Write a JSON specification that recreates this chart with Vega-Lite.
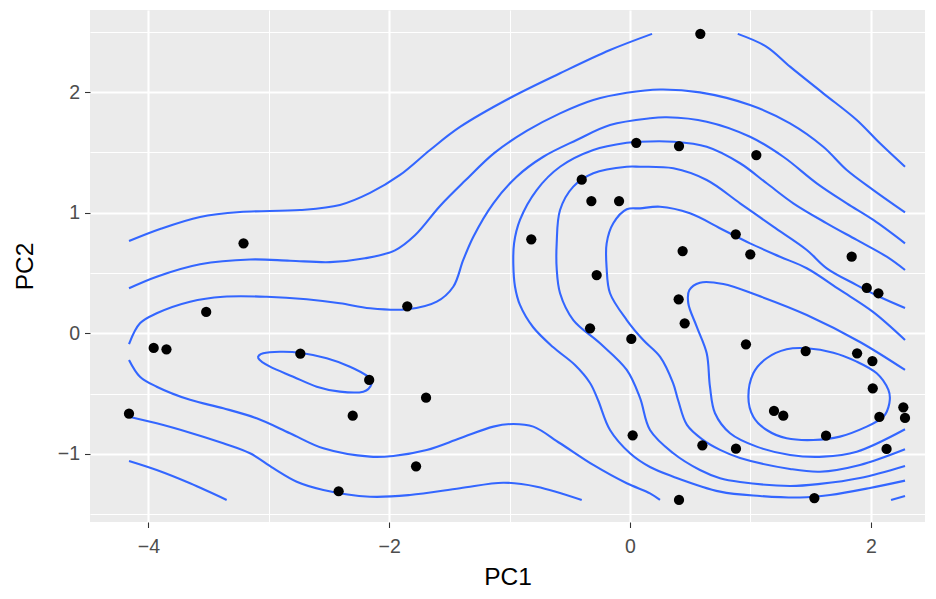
{
  "$schema": "https://vega.github.io/schema/vega-lite/v6.json",
  "width": 835,
  "height": 512,
  "autosize": {"type": "none"},
  "padding": {"left": 90, "top": 10, "right": 11, "bottom": 77},
  "background": "white",
  "config": {
    "view": {"fill": "#EBEBEB", "stroke": null},
    "axis": {"labelFont": "Liberation Sans", "titleFont": "Liberation Sans", "domain": false}
  },
  "datasets": {
    "pts": [
      {"PC1": -3.21, "PC2": 0.746}, {"PC1": -3.52, "PC2": 0.177}, {"PC1": -3.956, "PC2": -0.122}, {"PC1": -3.85, "PC2": -0.133},
      {"PC1": -2.738, "PC2": -0.169}, {"PC1": -2.166, "PC2": -0.387}, {"PC1": -4.161, "PC2": -0.667}, {"PC1": -2.303, "PC2": -0.683},
      {"PC1": -2.42, "PC2": -1.31}, {"PC1": 0.052, "PC2": 1.58}, {"PC1": -0.401, "PC2": 1.274}, {"PC1": -0.321, "PC2": 1.097},
      {"PC1": -0.091, "PC2": 1.097}, {"PC1": -0.82, "PC2": 0.779}, {"PC1": -1.85, "PC2": 0.224}, {"PC1": -0.277, "PC2": 0.483},
      {"PC1": -0.332, "PC2": 0.041}, {"PC1": 0.011, "PC2": -0.047}, {"PC1": -1.694, "PC2": -0.534}, {"PC1": 0.022, "PC2": -0.846},
      {"PC1": -1.777, "PC2": -1.103}, {"PC1": 0.584, "PC2": 2.484}, {"PC1": 0.407, "PC2": 1.553}, {"PC1": 1.049, "PC2": 1.478},
      {"PC1": 0.878, "PC2": 0.821}, {"PC1": 0.437, "PC2": 0.682}, {"PC1": 0.999, "PC2": 0.655}, {"PC1": 1.841, "PC2": 0.635},
      {"PC1": 1.966, "PC2": 0.376}, {"PC1": 2.063, "PC2": 0.332}, {"PC1": 0.404, "PC2": 0.282}, {"PC1": 0.454, "PC2": 0.083},
      {"PC1": 0.963, "PC2": -0.091}, {"PC1": 1.459, "PC2": -0.147}, {"PC1": 1.886, "PC2": -0.166}, {"PC1": 2.013, "PC2": -0.23},
      {"PC1": 2.016, "PC2": -0.456}, {"PC1": 2.27, "PC2": -0.614}, {"PC1": 2.284, "PC2": -0.702}, {"PC1": 2.071, "PC2": -0.694},
      {"PC1": 1.196, "PC2": -0.644}, {"PC1": 1.273, "PC2": -0.683}, {"PC1": 1.628, "PC2": -0.849}, {"PC1": 0.601, "PC2": -0.929},
      {"PC1": 0.88, "PC2": -0.957}, {"PC1": 2.131, "PC2": -0.959}, {"PC1": 0.407, "PC2": -1.382}, {"PC1": 1.531, "PC2": -1.366}
    ],
    "open": [
      {"s": "A1", "i": 0, "x": -4.161, "y": 0.765}, {"s": "A1", "i": 1, "x": -3.903, "y": 0.865}, {"s": "A1", "i": 2, "x": -3.571, "y": 0.965},
      {"s": "A1", "i": 3, "x": -3.239, "y": 1.006}, {"s": "A1", "i": 4, "x": -2.741, "y": 1.022}, {"s": "A1", "i": 5, "x": -2.409, "y": 1.064},
      {"s": "A1", "i": 6, "x": -2.159, "y": 1.164}, {"s": "A1", "i": 7, "x": -1.910, "y": 1.313}, {"s": "A1", "i": 8, "x": -1.661, "y": 1.520},
      {"s": "A1", "i": 9, "x": -1.412, "y": 1.711}, {"s": "A1", "i": 10, "x": -0.997, "y": 1.951}, {"s": "A1", "i": 11, "x": -0.581, "y": 2.156},
      {"s": "A1", "i": 12, "x": -0.166, "y": 2.349}, {"s": "A1", "i": 13, "x": 0.183, "y": 2.483},
      {"s": "A2", "i": 0, "x": 0.895, "y": 2.483}, {"s": "A2", "i": 1, "x": 1.135, "y": 2.376}, {"s": "A2", "i": 2, "x": 1.329, "y": 2.211},
      {"s": "A2", "i": 3, "x": 1.605, "y": 1.99}, {"s": "A2", "i": 4, "x": 1.883, "y": 1.769}, {"s": "A2", "i": 5, "x": 2.076, "y": 1.575},
      {"s": "A2", "i": 6, "x": 2.284, "y": 1.381},
      {"s": "A3", "i": 0, "x": -4.161, "y": -1.059}, {"s": "A3", "i": 1, "x": -3.931, "y": -1.134}, {"s": "A3", "i": 2, "x": -3.654, "y": -1.244},
      {"s": "A3", "i": 3, "x": -3.35, "y": -1.382},
      {"s": "A4", "i": 0, "x": 2.168, "y": -1.382}, {"s": "A4", "i": 1, "x": 2.284, "y": -1.349},
      {"s": "B1", "i": 0, "x": -4.161, "y": 0.373}, {"s": "B1", "i": 1, "x": -3.931, "y": 0.469}, {"s": "B1", "i": 2, "x": -3.571, "y": 0.572},
      {"s": "B1", "i": 3, "x": -3.156, "y": 0.612}, {"s": "B1", "i": 4, "x": -2.824, "y": 0.602}, {"s": "B1", "i": 5, "x": -2.492, "y": 0.590},
      {"s": "B1", "i": 6, "x": -2.201, "y": 0.622}, {"s": "B1", "i": 7, "x": -1.952, "y": 0.688}, {"s": "B1", "i": 8, "x": -1.786, "y": 0.813},
      {"s": "B1", "i": 9, "x": -1.578, "y": 1.056}, {"s": "B1", "i": 10, "x": -1.371, "y": 1.264}, {"s": "B1", "i": 11, "x": -1.126, "y": 1.496},
      {"s": "B1", "i": 12, "x": -0.855, "y": 1.680}, {"s": "B1", "i": 13, "x": -0.581, "y": 1.824},
      {"s": "B1", "i": 14, "x": -0.305, "y": 1.935}, {"s": "B1", "i": 15, "x": -0.027, "y": 1.995}, {"s": "B1", "i": 16, "x": 0.249, "y": 2.022},
      {"s": "B1", "i": 17, "x": 0.581, "y": 1.998}, {"s": "B1", "i": 18, "x": 0.997, "y": 1.893},
      {"s": "B1", "i": 19, "x": 1.329, "y": 1.741}, {"s": "B1", "i": 20, "x": 1.605, "y": 1.547}, {"s": "B1", "i": 21, "x": 1.8, "y": 1.354},
      {"s": "B1", "i": 22, "x": 2.021, "y": 1.188}, {"s": "B1", "i": 23, "x": 2.284, "y": 1.003},
      {"s": "B2", "i": 0, "x": -4.161, "y": -0.692}, {"s": "B2", "i": 1, "x": -3.931, "y": -0.746}, {"s": "B2", "i": 2, "x": -3.654, "y": -0.824},
      {"s": "B2", "i": 3, "x": -3.378, "y": -0.912}, {"s": "B2", "i": 4, "x": -3.156, "y": -0.995}, {"s": "B2", "i": 5, "x": -2.963, "y": -1.119},
      {"s": "B2", "i": 6, "x": -2.768, "y": -1.231}, {"s": "B2", "i": 7, "x": -2.547, "y": -1.299}, {"s": "B2", "i": 8, "x": -2.159, "y": -1.355},
      {"s": "B2", "i": 9, "x": -1.827, "y": -1.341}, {"s": "B2", "i": 10, "x": -1.412, "y": -1.285}, {"s": "B2", "i": 11, "x": -1.052, "y": -1.239},
      {"s": "B2", "i": 12, "x": -0.775, "y": -1.272}, {"s": "B2", "i": 13, "x": -0.401, "y": -1.382},
      {"s": "C1", "i": 0, "x": -4.161, "y": -0.089}, {"s": "C1", "i": 1, "x": -4.07, "y": 0.083}, {"s": "C1", "i": 2, "x": -3.931, "y": 0.166},
      {"s": "C1", "i": 3, "x": -3.654, "y": 0.262}, {"s": "C1", "i": 4, "x": -3.378, "y": 0.303}, {"s": "C1", "i": 5, "x": -3.017, "y": 0.303},
      {"s": "C1", "i": 6, "x": -2.685, "y": 0.282}, {"s": "C1", "i": 7, "x": -2.409, "y": 0.249}, {"s": "C1", "i": 8, "x": -2.159, "y": 0.207},
      {"s": "C1", "i": 9, "x": -1.85, "y": 0.199}, {"s": "C1", "i": 10, "x": -1.605, "y": 0.262}, {"s": "C1", "i": 11, "x": -1.468, "y": 0.386},
      {"s": "C1", "i": 12, "x": -1.385, "y": 0.608}, {"s": "C1", "i": 13, "x": -1.301, "y": 0.801}, {"s": "C1", "i": 14, "x": -1.135, "y": 1.078},
      {"s": "C1", "i": 15, "x": -0.941, "y": 1.299}, {"s": "C1", "i": 16, "x": -0.72, "y": 1.464}, {"s": "C1", "i": 17, "x": -0.443, "y": 1.603},
      {"s": "C1", "i": 18, "x": -0.166, "y": 1.727}, {"s": "C1", "i": 19, "x": 0.166, "y": 1.783}, {"s": "C1", "i": 20, "x": 0.305, "y": 1.791},
      {"s": "C1", "i": 21, "x": 0.637, "y": 1.755}, {"s": "C1", "i": 22, "x": 0.997, "y": 1.63}, {"s": "C1", "i": 23, "x": 1.273, "y": 1.464},
      {"s": "C1", "i": 24, "x": 1.551, "y": 1.244}, {"s": "C1", "i": 25, "x": 1.8, "y": 1.078}, {"s": "C1", "i": 26, "x": 2.021, "y": 0.94},
      {"s": "C1", "i": 27, "x": 2.284, "y": 0.746},
      {"s": "C2", "i": 0, "x": -4.161, "y": -0.221}, {"s": "C2", "i": 1, "x": -4.07, "y": -0.36}, {"s": "C2", "i": 2, "x": -3.931, "y": -0.443},
      {"s": "C2", "i": 3, "x": -3.654, "y": -0.552}, {"s": "C2", "i": 4, "x": -3.378, "y": -0.622}, {"s": "C2", "i": 5, "x": -3.101, "y": -0.705},
      {"s": "C2", "i": 6, "x": -2.824, "y": -0.829}, {"s": "C2", "i": 7, "x": -2.547, "y": -0.954}, {"s": "C2", "i": 8, "x": -2.159, "y": -1.023},
      {"s": "C2", "i": 9, "x": -1.966, "y": -1.017}, {"s": "C2", "i": 10, "x": -1.689, "y": -0.968}, {"s": "C2", "i": 11, "x": -1.412, "y": -0.871},
      {"s": "C2", "i": 12, "x": -1.135, "y": -0.774}, {"s": "C2", "i": 13, "x": -0.969, "y": -0.752}, {"s": "C2", "i": 14, "x": -0.803, "y": -0.774},
      {"s": "C2", "i": 15, "x": -0.581, "y": -0.912}, {"s": "C2", "i": 16, "x": -0.305, "y": -1.092}, {"s": "C2", "i": 17, "x": -0.027, "y": -1.244},
      {"s": "C2", "i": 18, "x": 0.166, "y": -1.327}, {"s": "C2", "i": 19, "x": 0.249, "y": -1.382},
      {"s": "D2", "i": 0, "x": 2.284, "y": 0.525}, {"s": "D2", "i": 1, "x": 2.132, "y": 0.635}, {"s": "D2", "i": 2, "x": 1.883, "y": 0.774},
      {"s": "D2", "i": 3, "x": 1.634, "y": 0.912}, {"s": "D2", "i": 4, "x": 1.356, "y": 1.078}, {"s": "D2", "i": 5, "x": 1.135, "y": 1.244},
      {"s": "D2", "i": 6, "x": 0.914, "y": 1.41}, {"s": "D2", "i": 7, "x": 0.637, "y": 1.547}, {"s": "D2", "i": 8, "x": 0.36, "y": 1.589},
      {"s": "D2", "i": 9, "x": 0.083, "y": 1.589}, {"s": "D2", "i": 10, "x": -0.027, "y": 1.58}, {"s": "D2", "i": 11, "x": -0.305, "y": 1.52},
      {"s": "D2", "i": 12, "x": -0.581, "y": 1.381}, {"s": "D2", "i": 13, "x": -0.775, "y": 1.188}, {"s": "D2", "i": 14, "x": -0.914, "y": 0.94},
      {"s": "D2", "i": 15, "x": -0.963, "y": 0.746}, {"s": "D2", "i": 16, "x": -0.969, "y": 0.566}, {"s": "D2", "i": 17, "x": -0.955, "y": 0.386},
      {"s": "D2", "i": 18, "x": -0.914, "y": 0.235}, {"s": "D2", "i": 19, "x": -0.806, "y": 0.052}, {"s": "D2", "i": 20, "x": -0.64, "y": -0.114},
      {"s": "D2", "i": 21, "x": -0.457, "y": -0.263}, {"s": "D2", "i": 22, "x": -0.332, "y": -0.412}, {"s": "D2", "i": 23, "x": -0.266, "y": -0.553},
      {"s": "D2", "i": 24, "x": -0.166, "y": -0.802}, {"s": "D2", "i": 25, "x": 0.0, "y": -0.995}, {"s": "D2", "i": 26, "x": 0.166, "y": -1.109},
      {"s": "D2", "i": 27, "x": 0.36, "y": -1.189}, {"s": "D2", "i": 28, "x": 0.748, "y": -1.313}, {"s": "D2", "i": 29, "x": 1.08, "y": -1.349},
      {"s": "D2", "i": 30, "x": 1.412, "y": -1.362}, {"s": "D2", "i": 31, "x": 1.661, "y": -1.341}, {"s": "D2", "i": 32, "x": 1.993, "y": -1.283},
      {"s": "D2", "i": 33, "x": 2.284, "y": -1.222},
      {"s": "E", "i": 0, "x": 2.284, "y": 0.21}, {"s": "E", "i": 1, "x": 2.076, "y": 0.301}, {"s": "E", "i": 2, "x": 1.883, "y": 0.4},
      {"s": "E", "i": 3, "x": 1.634, "y": 0.539}, {"s": "E", "i": 4, "x": 1.468, "y": 0.691}, {"s": "E", "i": 5, "x": 1.19, "y": 0.884},
      {"s": "E", "i": 6, "x": 0.914, "y": 1.078}, {"s": "E", "i": 7, "x": 0.637, "y": 1.271}, {"s": "E", "i": 8, "x": 0.36, "y": 1.368},
      {"s": "E", "i": 9, "x": 0.083, "y": 1.381}, {"s": "E", "i": 10, "x": -0.027, "y": 1.381}, {"s": "E", "i": 11, "x": -0.305, "y": 1.327},
      {"s": "E", "i": 12, "x": -0.471, "y": 1.216}, {"s": "E", "i": 13, "x": -0.581, "y": 1.022}, {"s": "E", "i": 14, "x": -0.609, "y": 0.746},
      {"s": "E", "i": 15, "x": -0.609, "y": 0.539}, {"s": "E", "i": 16, "x": -0.581, "y": 0.332}, {"s": "E", "i": 17, "x": -0.471, "y": 0.11},
      {"s": "E", "i": 18, "x": -0.249, "y": -0.083}, {"s": "E", "i": 19, "x": -0.027, "y": -0.304}, {"s": "E", "i": 20, "x": 0.083, "y": -0.536},
      {"s": "E", "i": 21, "x": 0.166, "y": -0.802}, {"s": "E", "i": 22, "x": 0.357, "y": -0.993}, {"s": "E", "i": 23, "x": 0.581, "y": -1.134},
      {"s": "E", "i": 24, "x": 0.748, "y": -1.202}, {"s": "E", "i": 25, "x": 0.914, "y": -1.233}, {"s": "E", "i": 26, "x": 1.329, "y": -1.266},
      {"s": "E", "i": 27, "x": 1.578, "y": -1.249}, {"s": "E", "i": 28, "x": 1.91, "y": -1.2}, {"s": "E", "i": 29, "x": 2.284, "y": -1.1},
      {"s": "F", "i": 0, "x": 2.284, "y": -0.056}, {"s": "F", "i": 1, "x": 2.018, "y": 0.177}, {"s": "F", "i": 2, "x": 1.744, "y": 0.359},
      {"s": "F", "i": 3, "x": 1.468, "y": 0.539}, {"s": "F", "i": 4, "x": 1.246, "y": 0.635}, {"s": "F", "i": 5, "x": 0.997, "y": 0.746},
      {"s": "F", "i": 6, "x": 0.775, "y": 0.857}, {"s": "F", "i": 7, "x": 0.498, "y": 0.995}, {"s": "F", "i": 8, "x": 0.249, "y": 1.05},
      {"s": "F", "i": 9, "x": 0.083, "y": 1.036}, {"s": "F", "i": 10, "x": -0.027, "y": 1.028}, {"s": "F", "i": 11, "x": -0.139, "y": 0.912},
      {"s": "F", "i": 12, "x": -0.194, "y": 0.746}, {"s": "F", "i": 13, "x": -0.194, "y": 0.539}, {"s": "F", "i": 14, "x": -0.166, "y": 0.332},
      {"s": "F", "i": 15, "x": -0.027, "y": 0.11}, {"s": "F", "i": 16, "x": 0.11, "y": -0.056}, {"s": "F", "i": 17, "x": 0.249, "y": -0.194},
      {"s": "F", "i": 18, "x": 0.357, "y": -0.412}, {"s": "F", "i": 19, "x": 0.399, "y": -0.553}, {"s": "F", "i": 20, "x": 0.473, "y": -0.76},
      {"s": "F", "i": 21, "x": 0.606, "y": -0.884}, {"s": "F", "i": 22, "x": 0.748, "y": -0.967}, {"s": "F", "i": 23, "x": 0.914, "y": -1.034},
      {"s": "F", "i": 24, "x": 1.329, "y": -1.125}, {"s": "F", "i": 25, "x": 1.578, "y": -1.148}, {"s": "F", "i": 26, "x": 1.91, "y": -1.092},
      {"s": "F", "i": 27, "x": 2.284, "y": -0.962},
      {"s": "G", "i": 0, "x": 2.284, "y": -0.304}, {"s": "G", "i": 1, "x": 1.91, "y": -0.072}, {"s": "G", "i": 2, "x": 1.468, "y": 0.152},
      {"s": "G", "i": 3, "x": 1.052, "y": 0.317}, {"s": "G", "i": 4, "x": 0.775, "y": 0.409}, {"s": "G", "i": 5, "x": 0.581, "y": 0.42},
      {"s": "G", "i": 6, "x": 0.493, "y": 0.359}, {"s": "G", "i": 7, "x": 0.484, "y": 0.249}, {"s": "G", "i": 8, "x": 0.554, "y": 0.055},
      {"s": "G", "i": 9, "x": 0.637, "y": -0.166}, {"s": "G", "i": 10, "x": 0.664, "y": -0.443}, {"s": "G", "i": 11, "x": 0.706, "y": -0.663},
      {"s": "G", "i": 12, "x": 0.831, "y": -0.829}, {"s": "G", "i": 13, "x": 1.052, "y": -0.94}, {"s": "G", "i": 14, "x": 1.329, "y": -1.009},
      {"s": "G", "i": 15, "x": 1.605, "y": -1.023}, {"s": "G", "i": 16, "x": 1.883, "y": -0.982}, {"s": "G", "i": 17, "x": 2.284, "y": -0.796}
    ],
    "loops": [
      {"s": "D1", "i": 0, "x": -3.087, "y": -0.207}, {"s": "D1", "i": 1, "x": -3.046, "y": -0.166}, {"s": "D1", "i": 2, "x": -2.907, "y": -0.153},
      {"s": "D1", "i": 3, "x": -2.741, "y": -0.161}, {"s": "D1", "i": 4, "x": -2.519, "y": -0.207}, {"s": "D1", "i": 5, "x": -2.326, "y": -0.277},
      {"s": "D1", "i": 6, "x": -2.174, "y": -0.36}, {"s": "D1", "i": 7, "x": -2.145, "y": -0.415}, {"s": "D1", "i": 8, "x": -2.215, "y": -0.484},
      {"s": "D1", "i": 9, "x": -2.409, "y": -0.484}, {"s": "D1", "i": 10, "x": -2.602, "y": -0.443}, {"s": "D1", "i": 11, "x": -2.797, "y": -0.36},
      {"s": "D1", "i": 12, "x": -2.99, "y": -0.277},
      {"s": "H", "i": 0, "x": 0.983, "y": -0.526}, {"s": "H", "i": 1, "x": 1.024, "y": -0.332}, {"s": "H", "i": 2, "x": 1.135, "y": -0.207},
      {"s": "H", "i": 3, "x": 1.301, "y": -0.133}, {"s": "H", "i": 4, "x": 1.468, "y": -0.124}, {"s": "H", "i": 5, "x": 1.689, "y": -0.161},
      {"s": "H", "i": 6, "x": 1.883, "y": -0.235}, {"s": "H", "i": 7, "x": 2.049, "y": -0.332}, {"s": "H", "i": 8, "x": 2.146, "y": -0.47},
      {"s": "H", "i": 9, "x": 2.154, "y": -0.58}, {"s": "H", "i": 10, "x": 2.104, "y": -0.692}, {"s": "H", "i": 11, "x": 1.966, "y": -0.774},
      {"s": "H", "i": 12, "x": 1.744, "y": -0.857}, {"s": "H", "i": 13, "x": 1.522, "y": -0.885}, {"s": "H", "i": 14, "x": 1.301, "y": -0.871},
      {"s": "H", "i": 15, "x": 1.135, "y": -0.802}, {"s": "H", "i": 16, "x": 1.024, "y": -0.692}
    ]
  },
  "layer": [
    {
      "data": {"name": "open"},
      "mark": {"type": "line", "color": "#3366FF", "strokeWidth": 2.1, "interpolate": "catmull-rom", "clip": true},
      "encoding": {
        "x": {"field": "x", "type": "quantitative", "scale": {"domain": [-4.485, 2.45], "nice": false, "zero": false},
              "axis": {"orient": "bottom", "values": [-3, -1, 1], "grid": true, "gridColor": "white", "gridWidth": 1.07, "labels": false, "ticks": false, "title": null}},
        "y": {"field": "y", "type": "quantitative", "scale": {"domain": [-1.565, 2.681], "nice": false, "zero": false},
              "axis": {"orient": "left", "values": [-1.5, -0.5, 0.5, 1.5, 2.5], "grid": true, "gridColor": "white", "gridWidth": 1.07, "labels": false, "ticks": false, "title": null}},
        "detail": {"field": "s", "type": "nominal"},
        "order": {"field": "i", "type": "quantitative"}
      }
    },
    {
      "data": {"name": "loops"},
      "mark": {"type": "line", "color": "#3366FF", "strokeWidth": 2.1, "interpolate": "cardinal-closed", "clip": true},
      "encoding": {
        "x": {"field": "x", "type": "quantitative", "axis": null},
        "y": {"field": "y", "type": "quantitative", "axis": null},
        "detail": {"field": "s", "type": "nominal"},
        "order": {"field": "i", "type": "quantitative"}
      }
    },
    {
      "data": {"name": "pts"},
      "mark": {"type": "point", "filled": true, "color": "black", "opacity": 1, "size": 105, "strokeWidth": 0},
      "encoding": {
        "x": {"field": "PC1", "type": "quantitative",
              "axis": {"orient": "bottom", "values": [-4, -2, 0, 2], "grid": true, "gridColor": "white", "gridWidth": 2.13,
                       "ticks": true, "tickColor": "#333333", "tickSize": 5.5, "tickWidth": 1.07,
                       "labelColor": "#4D4D4D", "labelFontSize": 19.5, "labelPadding": 10, "labelFlush": false,
                       "title": "PC1", "titleColor": "black", "titleFontSize": 24.5, "titleFontWeight": "normal", "titlePadding": 9}},
        "y": {"field": "PC2", "type": "quantitative",
              "axis": {"orient": "left", "values": [-1, 0, 1, 2], "grid": true, "gridColor": "white", "gridWidth": 2.13,
                       "ticks": true, "tickColor": "#333333", "tickSize": 5.5, "tickWidth": 1.07,
                       "labelColor": "#4D4D4D", "labelFontSize": 19.5, "labelPadding": 5, "labelFlush": false,
                       "title": "PC2", "titleColor": "black", "titleFontSize": 24.5, "titleFontWeight": "normal", "titlePadding": 20}}
      }
    }
  ],
  "resolve": {"axis": {"x": "independent", "y": "independent"}}
}
